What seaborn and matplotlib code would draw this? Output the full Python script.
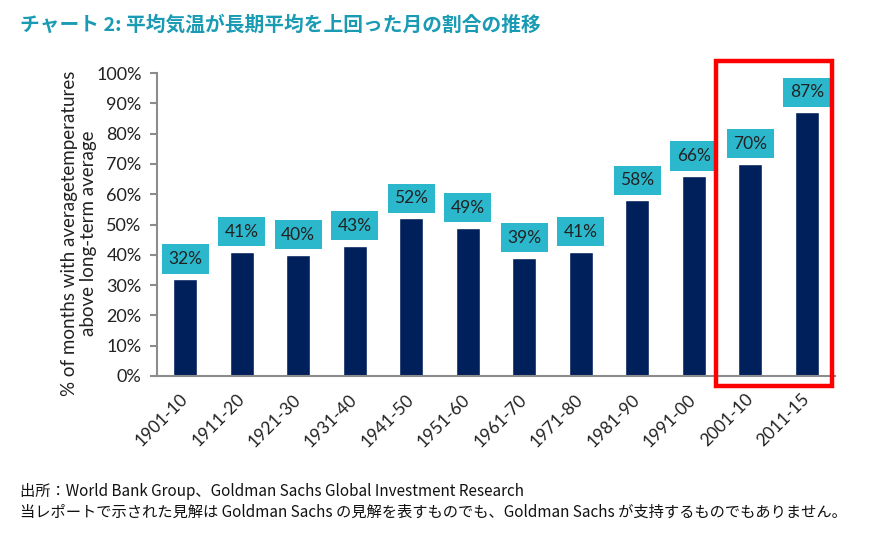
import matplotlib
matplotlib.use("Agg")
import matplotlib.pyplot as plt
import matplotlib.patches as mpatches
import pandas as pd
import seaborn as sns

# data
periods = ["1901-10", "1911-20", "1921-30", "1931-40", "1941-50", "1951-60",
           "1961-70", "1971-80", "1981-90", "1991-00", "2001-10", "2011-15"]
share_pct = [32, 41, 40, 43, 52, 49, 39, 41, 58, 66, 70, 87]
y_ticks = [0, 10, 20, 30, 40, 50, 60, 70, 80, 90, 100]

title = "チャート 2: 平均気温が長期平均を上回った月の割合の推移"
y_label = "% of months with averagetemperatures\nabove long-term average"
source_line = "出所：World Bank Group、Goldman Sachs Global Investment Research"
note_line = "当レポートで示された見解は Goldman Sachs の見解を表すものでも、Goldman Sachs が支持するものでもありません。"

df = pd.DataFrame({"period": periods, "share": share_pct})

sns.set_theme(style="white")
plt.rcParams['font.family'] = ['Lato', 'Noto Sans CJK JP', 'DejaVu Sans']

navy = "#00205C"
teal = "#2BB8CC"
axis_grey = "#8C8C8C"
ink = "#222222"
jp_font = ['Noto Sans CJK JP', 'DejaVu Sans']

fig = plt.figure(figsize=(8.84, 5.36), dpi=100)
ax = fig.add_axes([157 / 884, 1 - 376 / 536, (835 - 157) / 884, (376 - 73) / 536])

sns.barplot(data=df, x="period", y="share", color=navy, width=0.43,
            saturation=1, ax=ax)

# value labels in teal boxes
for i, v in enumerate(share_pct):
    ax.text(i, v + 6.6, f"{v}%", ha="center", va="center", fontsize=12.5,
            color=ink, family=['Lato', 'DejaVu Sans'],
            bbox=dict(boxstyle="square,pad=0.38", fc=teal, ec="none"))

ax.set_xlim(-0.5, len(periods) - 0.5)
ax.set_ylim(0, 100)
ax.set_yticks(y_ticks)
ax.set_yticklabels([f"{t}%" for t in y_ticks], fontsize=13, color=ink)
ax.set_xticks(range(len(periods)))
ax.set_xticklabels(periods, rotation=45, ha="right", va="center",
                   rotation_mode="anchor", fontsize=12.5, color=ink)
ax.set_xticks([i - 0.5 for i in range(len(periods) + 1)], minor=True)
ax.tick_params(axis="x", which="major", length=0, pad=15)
ax.tick_params(axis="x", which="minor", length=5, width=1.5, color=axis_grey,
               direction="out")
ax.tick_params(axis="y", length=5, width=1.5, color=axis_grey, direction="out",
               pad=6, left=True)
ax.set_xlabel("")
ax.set_ylabel(y_label, fontsize=13.5, color=ink, linespacing=1.15)
ax.yaxis.set_label_coords(-0.088, 0.472)

for side in ["top", "right"]:
    ax.spines[side].set_visible(False)
for side in ["left", "bottom"]:
    ax.spines[side].set_color(axis_grey)
    ax.spines[side].set_linewidth(1.5)

# red highlight box around the last two decades
fig.patches.append(mpatches.Rectangle(
    (716 / 884, 1 - 386 / 536), (832 - 716) / 884, (386 - 61) / 536,
    transform=fig.transFigure, fill=False, ec="#FF0000", lw=3.2))

fig.text(20 / 884, 1 - 25 / 536, title, fontsize=14.2, fontweight="bold",
         color="#1A9BB4", va="center", family=jp_font)
fig.text(20 / 884, 1 - 491 / 536, source_line, fontsize=11, color="#111111",
         va="center", family=jp_font)
fig.text(20 / 884, 1 - 512 / 536, note_line, fontsize=11, color="#111111",
         va="center", family=jp_font)

fig.savefig("out.png", dpi=100)
